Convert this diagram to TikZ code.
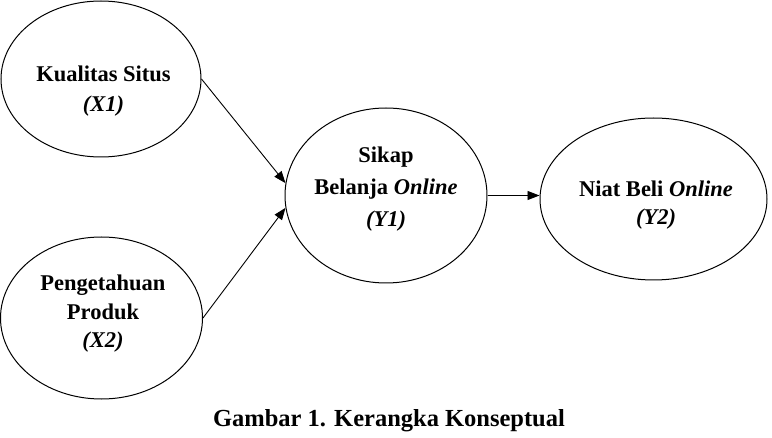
\documentclass[tikz,border=0pt]{standalone}
\usepackage{fontspec}
\setmainfont{Liberation Serif}
\usetikzlibrary{shapes.geometric,arrows.meta}
\tikzset{
  ell/.style={draw, ellipse, line width=1pt, inner sep=0pt},
  lbl/.style={align=center, anchor=base, inner sep=0pt},
  conn/.style={line width=0.9pt, -{Triangle[length=12pt,width=9pt]}}
}
\begin{document}
\begin{tikzpicture}[x=1pt,y=1pt]
\useasboundingbox (0,0) rectangle (772,437);
\node[ell, minimum width=200pt, minimum height=156pt] (x1) at (101,358) {};
\node[ell, minimum width=202pt, minimum height=162pt] (x2) at (101.5,119) {};
\node[ell, minimum width=202pt, minimum height=175pt] (y1) at (386,241.5) {};
\node[ell, minimum width=227pt, minimum height=162pt] (y2) at (653.5,238) {};
\node[lbl, font=\fontsize{22.5}{30}\selectfont\bfseries] (tx1) at (103.5,325) {Kualitas Situs\\\textit{(X1)}};
\node[lbl, font=\fontsize{22.5}{28.5}\selectfont\bfseries] (tx2) at (103,89) {Pengetahuan\\Produk\\\textit{(X2)}};
\node[lbl, font=\fontsize{22.5}{32}\selectfont\bfseries] (ty1) at (386,210) {Sikap\\Belanja \textit{Online}\\\textit{(Y1)}};
\node[lbl, font=\fontsize{22.5}{28}\selectfont\bfseries] (ty2) at (656,212) {Niat Beli \textit{Online}\\\textit{(Y2)}};
\draw[conn] (x1.east) -- (y1.173);
\draw[conn] (x2.east) -- (y1.187);
\draw[conn] (y1.east) -- (y1.east -| y2.west);
\node[anchor=base, inner sep=0pt, font=\fontsize{24.5}{29}\selectfont\bfseries] (cap) at (389,10) {Gambar 1. Kerangka Konseptual};
\end{tikzpicture}
\end{document}
